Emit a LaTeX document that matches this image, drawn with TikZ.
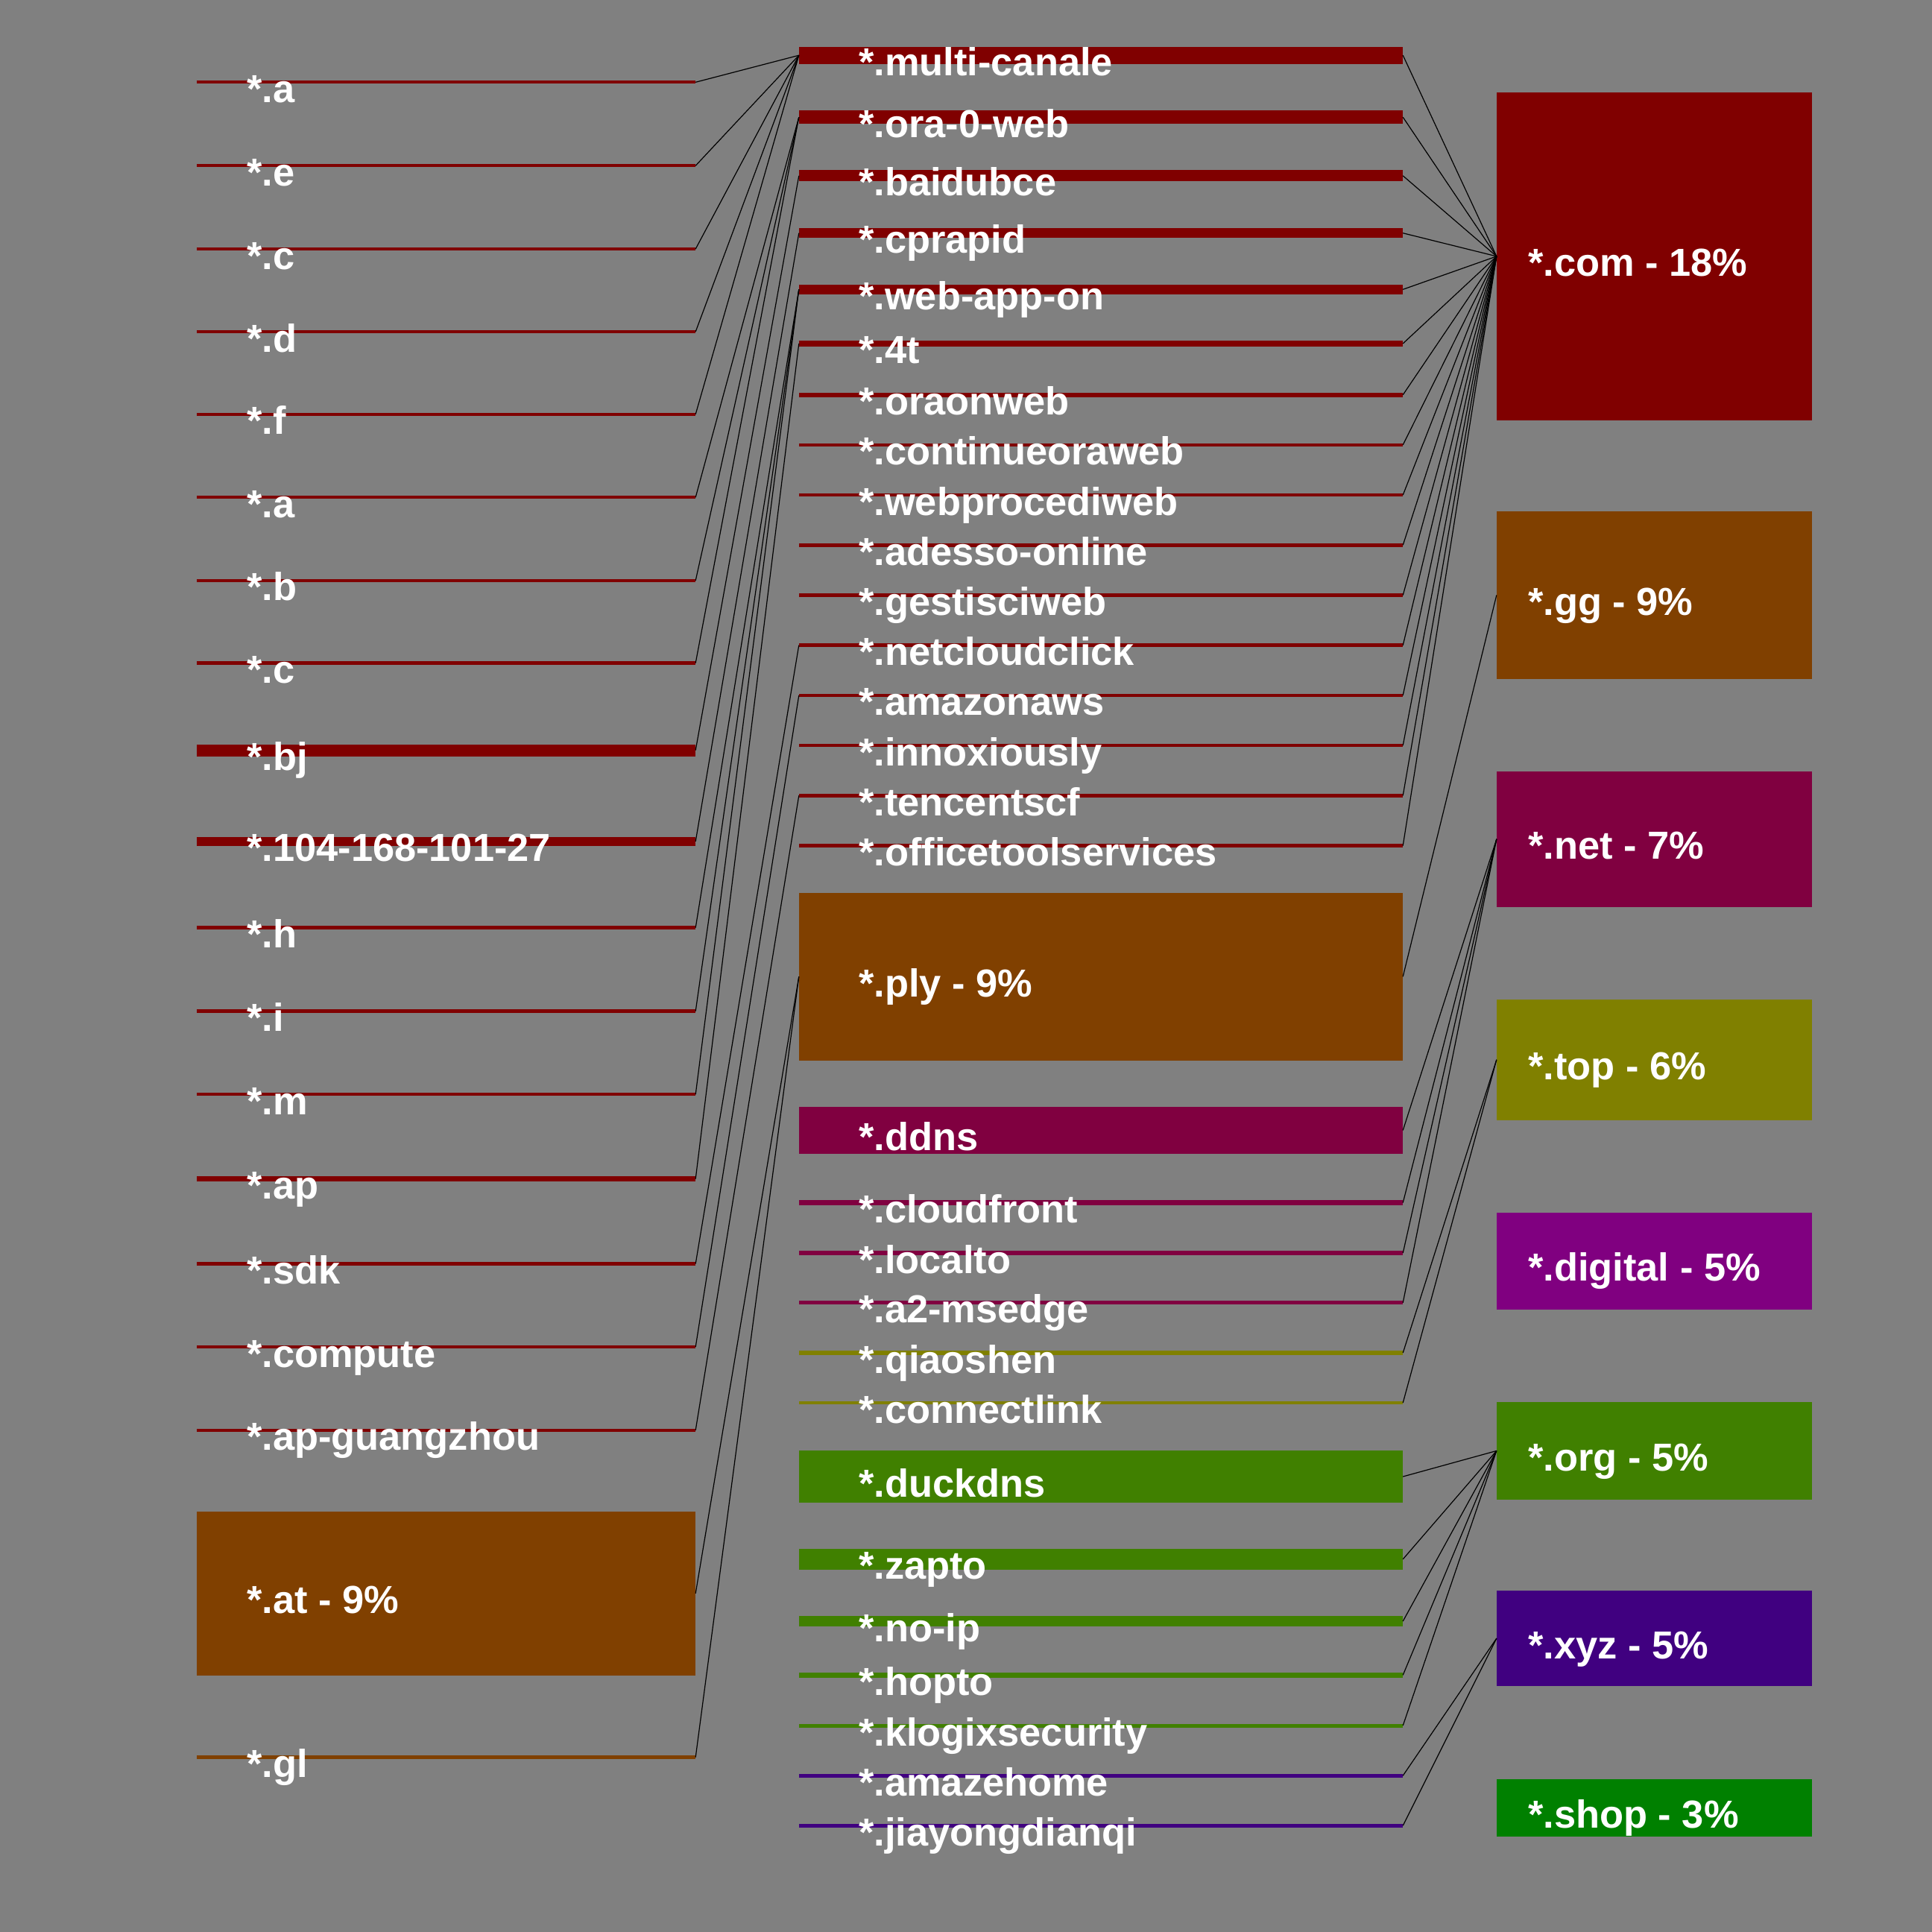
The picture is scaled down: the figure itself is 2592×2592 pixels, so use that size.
\documentclass[tikz,border=0pt]{standalone}
\usepackage{fontspec}
\setmainfont{Liberation Sans}
\usepackage{xcolor}
\definecolor{bg_grey}{RGB}{128,128,128}
\definecolor{tld_com}{RGB}{128,0,0}
\definecolor{tld_gg}{RGB}{128,64,0}
\definecolor{tld_net}{RGB}{128,0,64}
\definecolor{tld_top}{RGB}{128,128,0}
\definecolor{tld_digital}{RGB}{128,0,128}
\definecolor{tld_org}{RGB}{64,128,0}
\definecolor{tld_xyz}{RGB}{64,0,128}
\definecolor{tld_shop}{RGB}{0,128,0}

\begin{document}
\begin{tikzpicture}[x=1pt, y=-1pt,
    lbar/.style={inner sep=0pt, minimum width=669pt},
    mbar/.style={inner sep=0pt, minimum width=810pt},
    rbox/.style={inner sep=0pt, minimum width=423pt},
    lbl/.style={anchor=base west, inner sep=0pt, text=white,
      font=\fontsize{52.4}{60}\selectfont\bfseries},
    link/.style={black, line width=1.2pt}]
  \fill[bg_grey] (0,0) rectangle (2592,2592);
  \useasboundingbox (0,0) rectangle (2592,2592);

  % left column: sub-domains
  \node[lbar, fill=tld_com, minimum height=4.3pt] (l1) at (598.5,110.3) {};
  \node[lbar, fill=tld_com, minimum height=4.3pt] (l2) at (598.5,222.3) {};
  \node[lbar, fill=tld_com, minimum height=4.3pt] (l3) at (598.5,334) {};
  \node[lbar, fill=tld_com, minimum height=4.3pt] (l4) at (598.5,445) {};
  \node[lbar, fill=tld_com, minimum height=4.3pt] (l5) at (598.5,555.7) {};
  \node[lbar, fill=tld_com, minimum height=4.3pt] (l6) at (598.5,667.2) {};
  \node[lbar, fill=tld_com, minimum height=4.3pt] (l7) at (598.5,778.8) {};
  \node[lbar, fill=tld_com, minimum height=4.3pt] (l8) at (598.5,889.5) {};
  \node[lbar, fill=tld_com, minimum height=16pt] (l9) at (598.5,1006.5) {};
  \node[lbar, fill=tld_com, minimum height=12.5pt] (l10) at (598.5,1128.8) {};
  \node[lbar, fill=tld_com, minimum height=4.3pt] (l11) at (598.5,1244.6) {};
  \node[lbar, fill=tld_com, minimum height=4.3pt] (l12) at (598.5,1356.6) {};
  \node[lbar, fill=tld_com, minimum height=4.3pt] (l13) at (598.5,1468.2) {};
  \node[lbar, fill=tld_com, minimum height=7.6pt] (l14) at (598.5,1581.6) {};
  \node[lbar, fill=tld_com, minimum height=4.3pt] (l15) at (598.5,1695.4) {};
  \node[lbar, fill=tld_com, minimum height=4.3pt] (l16) at (598.5,1807) {};
  \node[lbar, fill=tld_com, minimum height=4.3pt] (l17) at (598.5,1918.7) {};
  \node[lbar, fill=tld_gg, minimum height=220pt] (l18) at (598.5,2137.7) {};
  \node[lbar, fill=tld_gg, minimum height=5pt] (l19) at (598.5,2357.5) {};

  % middle column: domains
  \node[mbar, fill=tld_com, minimum height=23pt] (m1) at (1477,74.2) {};
  \node[mbar, fill=tld_com, minimum height=17.7pt] (m2) at (1477,157.2) {};
  \node[mbar, fill=tld_com, minimum height=15pt] (m3) at (1477,235.8) {};
  \node[mbar, fill=tld_com, minimum height=13.3pt] (m4) at (1477,312.7) {};
  \node[mbar, fill=tld_com, minimum height=13.3pt] (m5) at (1477,388.3) {};
  \node[mbar, fill=tld_com, minimum height=8.3pt] (m6) at (1477,460.9) {};
  \node[mbar, fill=tld_com, minimum height=6pt] (m7) at (1477,529.7) {};
  \node[mbar, fill=tld_com, minimum height=4.7pt] (m8) at (1477,596.9) {};
  \node[mbar, fill=tld_com, minimum height=4.7pt] (m9) at (1477,664.1) {};
  \node[mbar, fill=tld_com, minimum height=4.7pt] (m10) at (1477,731.3) {};
  \node[mbar, fill=tld_com, minimum height=4.7pt] (m11) at (1477,798.5) {};
  \node[mbar, fill=tld_com, minimum height=4.7pt] (m12) at (1477,865.7) {};
  \node[mbar, fill=tld_com, minimum height=4.7pt] (m13) at (1477,932.9) {};
  \node[mbar, fill=tld_com, minimum height=4.7pt] (m14) at (1477,1000.1) {};
  \node[mbar, fill=tld_com, minimum height=4.7pt] (m15) at (1477,1067.3) {};
  \node[mbar, fill=tld_com, minimum height=4.7pt] (m16) at (1477,1134.5) {};
  \node[mbar, fill=tld_gg, minimum height=225pt] (m17) at (1477,1310.2) {};
  \node[mbar, fill=tld_net, minimum height=62.4pt] (m18) at (1477,1516.4) {};
  \node[mbar, fill=tld_net, minimum height=7pt] (m19) at (1477,1613.5) {};
  \node[mbar, fill=tld_net, minimum height=5.4pt] (m20) at (1477,1681) {};
  \node[mbar, fill=tld_net, minimum height=4.6pt] (m21) at (1477,1747.7) {};
  \node[mbar, fill=tld_top, minimum height=6.5pt] (m22) at (1477,1815) {};
  \node[mbar, fill=tld_top, minimum height=4.6pt] (m23) at (1477,1882) {};
  \node[mbar, fill=tld_org, minimum height=69.2pt] (m24) at (1477,1981) {};
  \node[mbar, fill=tld_org, minimum height=27.5pt] (m25) at (1477,2091.8) {};
  \node[mbar, fill=tld_org, minimum height=14pt] (m26) at (1477,2175) {};
  \node[mbar, fill=tld_org, minimum height=6.5pt] (m27) at (1477,2247.3) {};
  \node[mbar, fill=tld_org, minimum height=5pt] (m28) at (1477,2315) {};
  \node[mbar, fill=tld_xyz, minimum height=4.6pt] (m29) at (1477,2382.2) {};
  \node[mbar, fill=tld_xyz, minimum height=4.6pt] (m30) at (1477,2449.2) {};

  % right column: top-level domains
  \node[rbox, fill=tld_com, minimum height=439.3pt] (r1) at (2219.5,343.9) {};
  \node[rbox, fill=tld_gg, minimum height=224.8pt] (r2) at (2219.5,798.4) {};
  \node[rbox, fill=tld_net, minimum height=181.9pt] (r3) at (2219.5,1125.8) {};
  \node[rbox, fill=tld_top, minimum height=162.1pt] (r4) at (2219.5,1421.7) {};
  \node[rbox, fill=tld_digital, minimum height=130.6pt] (r5) at (2219.5,1691.9) {};
  \node[rbox, fill=tld_org, minimum height=130.8pt] (r6) at (2219.5,1946.4) {};
  \node[rbox, fill=tld_xyz, minimum height=128pt] (r7) at (2219.5,2198) {};
  \node[rbox, fill=tld_shop, minimum height=77pt] (r8) at (2219.5,2425) {};

  % links left -> middle
  \draw[link] (l1.east) -- (m1.west);
  \draw[link] (l2.east) -- (m1.west);
  \draw[link] (l3.east) -- (m1.west);
  \draw[link] (l4.east) -- (m1.west);
  \draw[link] (l5.east) -- (m1.west);
  \draw[link] (l6.east) -- (m2.west);
  \draw[link] (l7.east) -- (m2.west);
  \draw[link] (l8.east) -- (m2.west);
  \draw[link] (l9.east) -- (m3.west);
  \draw[link] (l10.east) -- (m4.west);
  \draw[link] (l11.east) -- (m5.west);
  \draw[link] (l12.east) -- (m5.west);
  \draw[link] (l13.east) -- (m5.west);
  \draw[link] (l14.east) -- (m6.west);
  \draw[link] (l15.east) -- (m12.west);
  \draw[link] (l16.east) -- (m13.west);
  \draw[link] (l17.east) -- (m15.west);
  \draw[link] (l18.east) -- (m17.west);
  \draw[link] (l19.east) -- (m17.west);

  % links middle -> right
  \draw[link] (m1.east) -- (r1.west);
  \draw[link] (m2.east) -- (r1.west);
  \draw[link] (m3.east) -- (r1.west);
  \draw[link] (m4.east) -- (r1.west);
  \draw[link] (m5.east) -- (r1.west);
  \draw[link] (m6.east) -- (r1.west);
  \draw[link] (m7.east) -- (r1.west);
  \draw[link] (m8.east) -- (r1.west);
  \draw[link] (m9.east) -- (r1.west);
  \draw[link] (m10.east) -- (r1.west);
  \draw[link] (m11.east) -- (r1.west);
  \draw[link] (m12.east) -- (r1.west);
  \draw[link] (m13.east) -- (r1.west);
  \draw[link] (m14.east) -- (r1.west);
  \draw[link] (m15.east) -- (r1.west);
  \draw[link] (m16.east) -- (r1.west);
  \draw[link] (m17.east) -- (r2.west);
  \draw[link] (m18.east) -- (r3.west);
  \draw[link] (m19.east) -- (r3.west);
  \draw[link] (m20.east) -- (r3.west);
  \draw[link] (m21.east) -- (r3.west);
  \draw[link] (m22.east) -- (r4.west);
  \draw[link] (m23.east) -- (r4.west);
  \draw[link] (m24.east) -- (r6.west);
  \draw[link] (m25.east) -- (r6.west);
  \draw[link] (m26.east) -- (r6.west);
  \draw[link] (m27.east) -- (r6.west);
  \draw[link] (m28.east) -- (r6.west);
  \draw[link] (m29.east) -- (r7.west);
  \draw[link] (m30.east) -- (r7.west);

  % labels
  \node[lbl] (tl1) at (331,137.3) {*.a};
  \node[lbl] (tl2) at (331,249.3) {*.e};
  \node[lbl] (tl3) at (331,361) {*.c};
  \node[lbl] (tl4) at (331,472) {*.d};
  \node[lbl] (tl5) at (331,582.7) {*.f};
  \node[lbl] (tl6) at (331,694.2) {*.a};
  \node[lbl] (tl7) at (331,805.8) {*.b};
  \node[lbl] (tl8) at (331,916.5) {*.c};
  \node[lbl] (tl9) at (331,1033.5) {*.bj};
  \node[lbl] (tl10) at (331,1155.8) {*.104-168-101-27};
  \node[lbl] (tl11) at (331,1271.6) {*.h};
  \node[lbl] (tl12) at (331,1383.6) {*.i};
  \node[lbl] (tl13) at (331,1495.2) {*.m};
  \node[lbl] (tl14) at (331,1608.6) {*.ap};
  \node[lbl] (tl15) at (331,1722.4) {*.sdk};
  \node[lbl] (tl16) at (331,1834) {*.compute};
  \node[lbl] (tl17) at (331,1945.7) {*.ap-guangzhou};
  \node[lbl] (tl18) at (331,2164.7) {*.at - 9\%};
  \node[lbl] (tl19) at (331,2384.5) {*.gl};

  \node[lbl] (tm1) at (1152,101.2) {*.multi-canale};
  \node[lbl] (tm2) at (1152,184.2) {*.ora-0-web};
  \node[lbl] (tm3) at (1152,262.8) {*.baidubce};
  \node[lbl] (tm4) at (1152,339.7) {*.cprapid};
  \node[lbl] (tm5) at (1152,415.3) {*.web-app-on};
  \node[lbl] (tm6) at (1152,487.9) {*.4t};
  \node[lbl] (tm7) at (1152,556.7) {*.oraonweb};
  \node[lbl] (tm8) at (1152,623.9) {*.continueoraweb};
  \node[lbl] (tm9) at (1152,691.1) {*.webprocediweb};
  \node[lbl] (tm10) at (1152,758.3) {*.adesso-online};
  \node[lbl] (tm11) at (1152,825.5) {*.gestisciweb};
  \node[lbl] (tm12) at (1152,892.7) {*.netcloudclick};
  \node[lbl] (tm13) at (1152,959.9) {*.amazonaws};
  \node[lbl] (tm14) at (1152,1027.1) {*.innoxiously};
  \node[lbl] (tm15) at (1152,1094.3) {*.tencentscf};
  \node[lbl] (tm16) at (1152,1161.5) {*.officetoolservices};
  \node[lbl] (tm17) at (1152,1337.2) {*.ply - 9\%};
  \node[lbl] (tm18) at (1152,1543.4) {*.ddns};
  \node[lbl] (tm19) at (1152,1640.5) {*.cloudfront};
  \node[lbl] (tm20) at (1152,1708) {*.localto};
  \node[lbl] (tm21) at (1152,1774.7) {*.a2-msedge};
  \node[lbl] (tm22) at (1152,1842) {*.qiaoshen};
  \node[lbl] (tm23) at (1152,1909) {*.connectlink};
  \node[lbl] (tm24) at (1152,2008) {*.duckdns};
  \node[lbl] (tm25) at (1152,2118.8) {*.zapto};
  \node[lbl] (tm26) at (1152,2202) {*.no-ip};
  \node[lbl] (tm27) at (1152,2274.3) {*.hopto};
  \node[lbl] (tm28) at (1152,2342) {*.klogixsecurity};
  \node[lbl] (tm29) at (1152,2409.2) {*.amazehome};
  \node[lbl] (tm30) at (1152,2476.2) {*.jiayongdianqi};

  \node[lbl] (tr1) at (2050,370.9) {*.com - 18\%};
  \node[lbl] (tr2) at (2050,825.4) {*.gg - 9\%};
  \node[lbl] (tr3) at (2050,1152.8) {*.net - 7\%};
  \node[lbl] (tr4) at (2050,1448.7) {*.top - 6\%};
  \node[lbl] (tr5) at (2050,1718.9) {*.digital - 5\%};
  \node[lbl] (tr6) at (2050,1973.4) {*.org - 5\%};
  \node[lbl] (tr7) at (2050,2225) {*.xyz - 5\%};
  \node[lbl] (tr8) at (2050,2452) {*.shop - 3\%};
\end{tikzpicture}
\end{document}
